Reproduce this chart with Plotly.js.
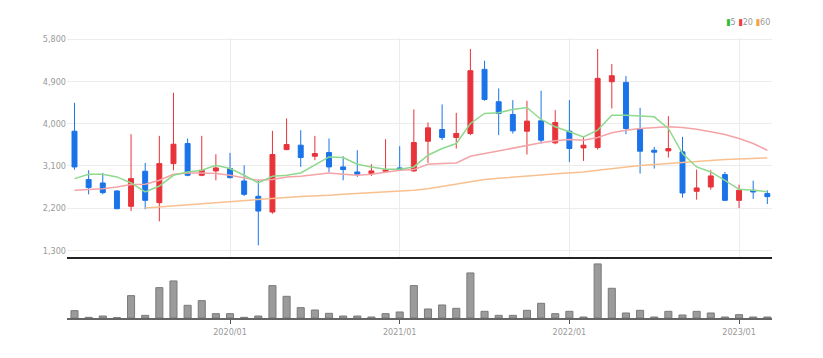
<!DOCTYPE html>
<html>
<head>
<meta charset="utf-8">
<script src="https://cdn.plot.ly/plotly-3.0.1.min.js"></script>
<style>html,body{margin:0;padding:0;background:#fff;}#chart{width:823px;height:358px;}</style>
</head>
<body>
<div id="chart"></div>
<script>
const months = ["2019/02","2019/03","2019/04","2019/05","2019/06","2019/07","2019/08","2019/09","2019/10","2019/11","2019/12",
"2020/01","2020/02","2020/03","2020/04","2020/05","2020/06","2020/07","2020/08","2020/09","2020/10","2020/11","2020/12",
"2021/01","2021/02","2021/03","2021/04","2021/05","2021/06","2021/07","2021/08","2021/09","2021/10","2021/11","2021/12",
"2022/01","2022/02","2022/03","2022/04","2022/05","2022/06","2022/07","2022/08","2022/09","2022/10","2022/11","2022/12",
"2023/01","2023/02","2023/03"];
const openP  = [3842,2810,2738,2568,2240,2988,2318,3151,3579,2902,2995,3045,2781,2454,2119,3450,3543,3308,3386,3080,2973,2938,2988,3059,2995,3628,3878,3707,3792,5159,4469,4198,3842,4063,3593,3842,3486,3493,4896,4882,3899,3436,3422,3401,2560,2653,2916,2368,2582,2511];
const highP  = [4447,3009,2952,2580,3778,3166,3742,4661,3685,3742,3351,3379,3116,2810,3849,4113,3863,3742,3685,3308,3436,3137,3671,3522,4305,4027,4412,4234,5594,5344,4753,4504,4490,4704,4291,4504,3721,5594,5273,5017,4340,3508,4162,3721,3023,3009,2973,2703,2787,2582];
const lowP   = [3020,2496,2496,2176,2140,2176,1920,3009,2881,2881,2795,2831,2461,1407,2083,3436,3080,3223,2973,2795,2867,2888,2960,2995,2973,3166,3650,3472,3757,4490,3757,3792,3344,3579,3564,3187,3208,3450,4326,3778,2938,3045,3280,2425,2382,2595,2354,2204,2397,2289];
const closeP = [3080,2639,2532,2190,2831,2368,3151,3564,2902,3009,3059,2852,2496,2140,3344,3557,3280,3365,3080,3023,2924,2995,3016,3016,3600,3913,3707,3795,5131,4518,4219,3849,4056,3650,4028,3472,3543,4967,5024,3899,3415,3394,3472,2524,2632,2888,2368,2582,2546,2447];
const ma5  = [2831,2924,2924,2867,2738,2546,2674,2902,2973,3009,3116,3045,2902,2738,2881,2902,2952,3130,3294,3280,3137,3080,3030,3030,3080,3329,3472,3579,4006,4219,4234,4305,4348,4091,3935,3828,3721,3863,4184,4184,4170,4148,3899,3365,3080,2973,2795,2603,2582,2553];
const ma20 = [2582,2596,2617,2653,2703,2710,2795,2924,2952,2952,2938,2902,2852,2795,2810,2867,2881,2924,2952,2924,2902,2924,2973,3009,3023,3137,3151,3166,3308,3365,3422,3486,3543,3593,3636,3664,3650,3707,3807,3863,3899,3920,3935,3920,3885,3828,3771,3686,3579,3436];
const ma60 = [null,null,null,null,null,2204,2228,2252,2275,2298,2322,2345,2368,2390,2410,2430,2450,2460,2475,2496,2510,2525,2546,2560,2582,2617,2667,2724,2760,2810,2838,2867,2895,2910,2935,2952,2973,3009,3045,3080,3109,3130,3151,3187,3208,3222,3237,3251,3258,3272];
const volume = [22,2,6,1,67,8,91,111,38,52,13,13,2,6,97,65,31,24,14,6,6,3,13,18,97,27,39,29,135,20,8,8,23,44,13,20,3,162,89,15,23,3,20,9,20,15,3,10,3,3];
const yTicks = [1300,2200,3100,4000,4900,5800];
const xTicks = ["2020/01","2021/01","2022/01","2023/01"];
const maNames = ["5","20","60"];

const RED = "#e8333a", BLUE = "#1a73e8";
const GREEN_MA = "#8ed98e", RED_MA = "#f4a3a6", ORANGE_MA = "#f9c08f";
const FONT = "Liberation Sans Narrow, DejaVu Sans Condensed, Arial Narrow, sans-serif";

const traces = [
  {type:"scatter", mode:"lines", x:months, y:ma60, line:{color:ORANGE_MA, width:1.5}, hoverinfo:"skip", xaxis:"x", yaxis:"y"},
  {type:"scatter", mode:"lines", x:months, y:ma20, line:{color:RED_MA, width:1.5}, hoverinfo:"skip", xaxis:"x", yaxis:"y"},
  {type:"scatter", mode:"lines", x:months, y:ma5, line:{color:GREEN_MA, width:1.5}, hoverinfo:"skip", xaxis:"x", yaxis:"y"},
  {type:"candlestick", x:months, open:openP, high:highP, low:lowP, close:closeP,
   increasing:{line:{color:RED, width:1}, fillcolor:RED},
   decreasing:{line:{color:BLUE, width:1}, fillcolor:BLUE},
   whiskerwidth:0, hoverinfo:"skip", xaxis:"x", yaxis:"y"},
  {type:"bar", x:months, y:volume, width:0.5, marker:{color:"#9b9b9b", line:{color:"#7a7a7a", width:1}}, hoverinfo:"skip", xaxis:"x2", yaxis:"y2"}
];

const xr = [-0.53, 49.33];
const layout = {
  width:823, height:358,
  margin:{l:67, r:51, t:38, b:40},
  paper_bgcolor:"#fff", plot_bgcolor:"#fff",
  showlegend:false,
  boxgap:0.5,
  font:{family:FONT, size:9, color:"#999"},
  xaxis:{type:"category", range:xr, domain:[0,1], anchor:"y",
         rangeslider:{visible:false},
         tickvals:xTicks, showticklabels:false, ticks:"",
         showgrid:true, gridcolor:"#ececec", gridwidth:1,
         showline:true, linecolor:"#222", linewidth:2, zeroline:false, fixedrange:true},
  yaxis:{domain:[0.218,1], range:[1161,5828], tickvals:yTicks, tickformat:",",
         showgrid:true, gridcolor:"#ececec", gridwidth:1, zeroline:false, showline:false,
         ticks:"", tickfont:{family:FONT, size:9, color:"#999"}, fixedrange:true},
  xaxis2:{type:"category", range:xr, domain:[0,1], anchor:"y2",
          tickvals:xTicks, ticktext:xTicks, ticks:"outside", ticklen:4, tickcolor:"#555", tickwidth:1,
          showgrid:false, showline:true, linecolor:"#666", linewidth:2, zeroline:false,
          tickfont:{family:FONT, size:9, color:"#999"}, fixedrange:true},
  yaxis2:{domain:[0,0.211], range:[0,177], showgrid:false, showticklabels:false, ticks:"",
          zeroline:false, showline:false, fixedrange:true},
  annotations:[{
    xref:"paper", yref:"paper", x:1, y:1.057, xanchor:"right", yanchor:"middle", showarrow:false,
    text:'<span style="color:#2ebd3a">▮</span>' + maNames[0] + ' <span style="color:#ee3b3b">▮</span>' + maNames[1] + ' <span style="color:#f7a040">▮</span>' + maNames[2],
    font:{family:FONT, size:9, color:"#999"}
  }]
};
Plotly.newPlot("chart", traces, layout, {displayModeBar:false, staticPlot:true});
</script>
</body>
</html>
